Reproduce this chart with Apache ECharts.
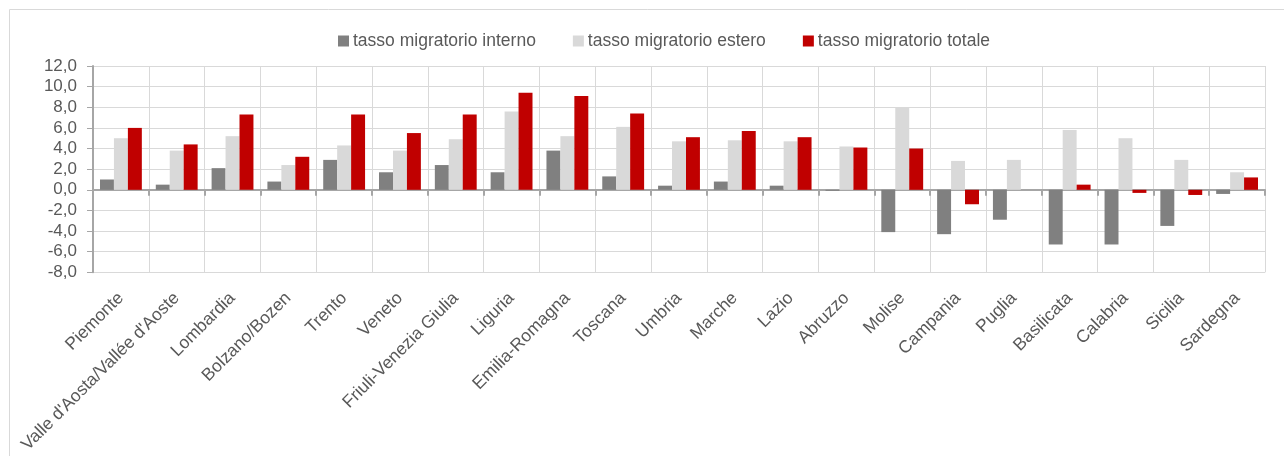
<!DOCTYPE html>
<html>
<head>
<meta charset="utf-8">
<script src="https://cdn.jsdelivr.net/npm/echarts@6/dist/echarts.min.js"></script>
<style>html,body{margin:0;padding:0;background:#fff}#c{width:1284px;height:456px}</style>
</head>
<body>
<div id="c"></div>
<script>
var categories = ["Piemonte","Valle d'Aosta/Vallée d'Aoste","Lombardia","Bolzano/Bozen","Trento","Veneto","Friuli-Venezia Giulia","Liguria","Emilia-Romagna","Toscana","Umbria","Marche","Lazio","Abruzzo","Molise","Campania","Puglia","Basilicata","Calabria","Sicilia","Sardegna"];
var seriesNames = ["tasso migratorio interno","tasso migratorio estero","tasso migratorio totale"];
var interno = [1.0,0.5,2.1,0.8,2.9,1.7,2.4,1.7,3.8,1.3,0.4,0.8,0.4,-0.1,-4.1,-4.3,-2.9,-5.3,-5.3,-3.5,-0.4];
var estero = [5.0,3.8,5.2,2.4,4.3,3.8,4.9,7.6,5.2,6.1,4.7,4.8,4.7,4.2,8.0,2.8,2.9,5.8,5.0,2.9,1.7];
var totale = [6.0,4.4,7.3,3.2,7.3,5.5,7.3,9.4,9.1,7.4,5.1,5.7,5.1,4.1,4.0,-1.4,0.0,0.5,-0.3,-0.5,1.2];
var yMin = -8, yMax = 12, yStep = 2;

var font = 'Liberation Sans, Arial, sans-serif';
var txt = '#595959';
var chart = echarts.init(document.getElementById('c'), null, {renderer: 'canvas'});
function bar(name, data, color) {
  return {name: name, type: 'bar', xAxisIndex: 0, data: data, barGap: '0%', barCategoryGap: '25%',
    itemStyle: {color: color}, emphasis: {disabled: true}, animation: false};
}
chart.setOption({
  animation: false,
  graphic: [{type: 'rect', shape: {x: 9.5, y: 9.5, width: 1400, height: 600},
    style: {fill: 'none', stroke: '#d9d9d9', lineWidth: 1}, z: -1, silent: true}],
  legend: {
    top: 27, left: 333, itemWidth: 11, itemHeight: 11, itemGap: 37,
    icon: 'rect',
    textStyle: {fontFamily: font, fontSize: 17.5, color: txt, padding: [0, 0, 0, -1]},
    data: seriesNames
  },
  grid: {left: 93, right: 19, top: 66, height: 209, containLabel: false},
  xAxis: [{
    type: 'category', data: categories, position: 'bottom',
    axisLine: {show: false, onZero: false}, axisTick: {show: false},
    splitLine: {show: true, lineStyle: {color: '#d9d9d9', width: 1}},
    axisLabel: {rotate: 45, interval: 0, margin: 23, color: txt, fontFamily: font, fontSize: 17.5}
  }, {
    type: 'category', data: categories, position: 'bottom',
    axisLine: {show: true, onZero: true, lineStyle: {color: '#a6a6a6', width: 2}},
    axisTick: {show: true, length: 6, interval: 0, lineStyle: {color: '#a6a6a6', width: 2}},
    axisLabel: {show: false}, splitLine: {show: false}
  }],
  yAxis: {
    type: 'value', min: yMin, max: yMax, interval: yStep,
    axisLine: {show: true, lineStyle: {color: '#a6a6a6', width: 2}},
    axisTick: {show: true, length: 6, lineStyle: {color: '#a6a6a6', width: 1}},
    splitLine: {show: true, lineStyle: {color: '#d9d9d9', width: 1}},
    axisLabel: {margin: 16, color: txt, fontFamily: font, fontSize: 17,
      formatter: function (v) { return v.toFixed(1).replace('.', ','); }}
  },
  series: [
    bar(seriesNames[0], interno, '#808080'),
    bar(seriesNames[1], estero, '#d9d9d9'),
    bar(seriesNames[2], totale, '#c00000')
  ]
});
</script>
</body>
</html>
